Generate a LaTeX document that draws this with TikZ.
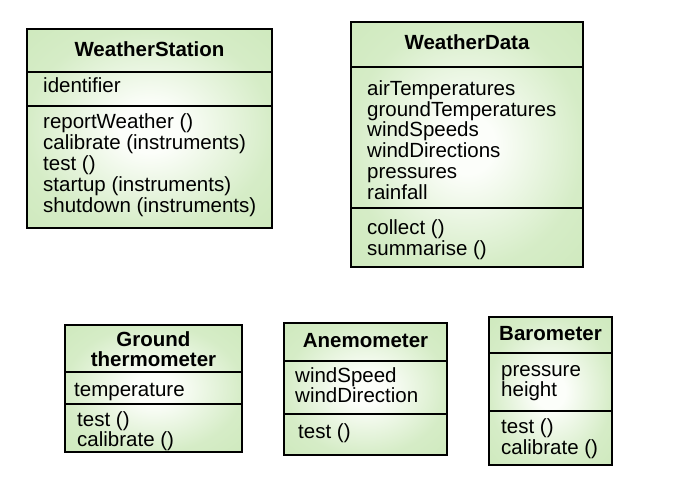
\documentclass[tikz,border=0pt]{standalone}
\usepackage{fontspec}
\setmainfont{Liberation Sans}
\definecolor{boxcore}{RGB}{252,254,250}
\definecolor{boxedge}{RGB}{204,232,186}
\pgfdeclareradialshading{classglow}{\pgfpoint{0bp}{0bp}}{%
  color(0bp)=(boxcore); color(6bp)=(boxcore); color(25bp)=(boxedge!80!boxcore); color(40bp)=(boxedge); color(50bp)=(boxedge)}
% text size with a fixed line pitch
\newcommand\uml[1]{\fontsize{20.5}{#1}\selectfont\lineskiplimit=-20pt\relax}
\tikzset{
  classbox/.style={draw=black, line width=2.6pt, shading=classglow},
  compline/.style={line width=2pt},
  classname/.style={font=\bfseries\uml{20}, inner sep=0pt, anchor=base},
  member/.style={font=\uml{20}, inner sep=0pt, anchor=base west},
  members/.style={font=\uml{#1}, inner sep=0pt, anchor=north west, align=left},
}
\begin{document}
\begin{tikzpicture}[x=1pt, y=-1pt]
\useasboundingbox (0,0) rectangle (688,494);

% WeatherStation
\path[classbox] (27,29) rectangle (272,228);
\draw[compline] (27,72) -- (272,72);
\draw[compline] (27,106) -- (272,106);
\node[classname] (wsName) at (149.5,57) {WeatherStation};
\node[member] (wsAttr) at (43,93) {identifier};
\node[members=21] (wsOps) at (43,128-14.7) {\strut reportWeather ()\\\strut calibrate (instruments)\\\strut test ()\\\strut startup (instruments)\\\strut shutdown (instruments)};

% WeatherData
\path[classbox] (351,22) rectangle (583,267);
\draw[compline] (351,67) -- (583,67);
\draw[compline] (351,208) -- (583,208);
\node[classname] (wdName) at (467,50) {WeatherData};
\node[members=20.8] (wdAttr) at (367,95-14.7) {\strut airTemperatures\\\strut groundTemperatures\\\strut windSpeeds\\\strut windDirections\\\strut pressures\\\strut rainfall};
\node[members=21] (wdOps) at (367,234-14.7) {\strut collect ()\\\strut summarise ()};

% Ground thermometer
\path[classbox] (65,325) rectangle (242,452);
\draw[compline] (65,372) -- (242,372);
\draw[compline] (65,404) -- (242,404);
\node[font=\bfseries\uml{20}, inner sep=0pt, anchor=north, align=center] (gtName) at (153.5,346-14.7) {\strut Ground\\\strut thermometer};
\node[member] (gtAttr) at (74,396) {temperature};
\node[members=20] (gtOps) at (77,426-14.7) {\strut test ()\\\strut calibrate ()};

% Anemometer
\path[classbox] (284,323) rectangle (447,455);
\draw[compline] (284,361) -- (447,361);
\draw[compline] (284,414) -- (447,414);
\node[classname] (anName) at (365.5,347) {Anemometer};
\node[members=20.5] (anAttr) at (295,382-14.7) {\strut windSpeed\\\strut windDirection};
\node[member] (anOps) at (298,438.5) {test ()};

% Barometer
\path[classbox] (489,317) rectangle (612,465);
\draw[compline] (489,353) -- (612,353);
\draw[compline] (489,411) -- (612,411);
\node[classname] (baName) at (550.5,340) {Barometer};
\node[members=20.5] (baAttr) at (501,376.5-14.7) {\strut pressure\\\strut height};
\node[members=20.5] (baOps) at (501,433.5-14.7) {\strut test ()\\\strut calibrate ()};
\end{tikzpicture}
\end{document}
